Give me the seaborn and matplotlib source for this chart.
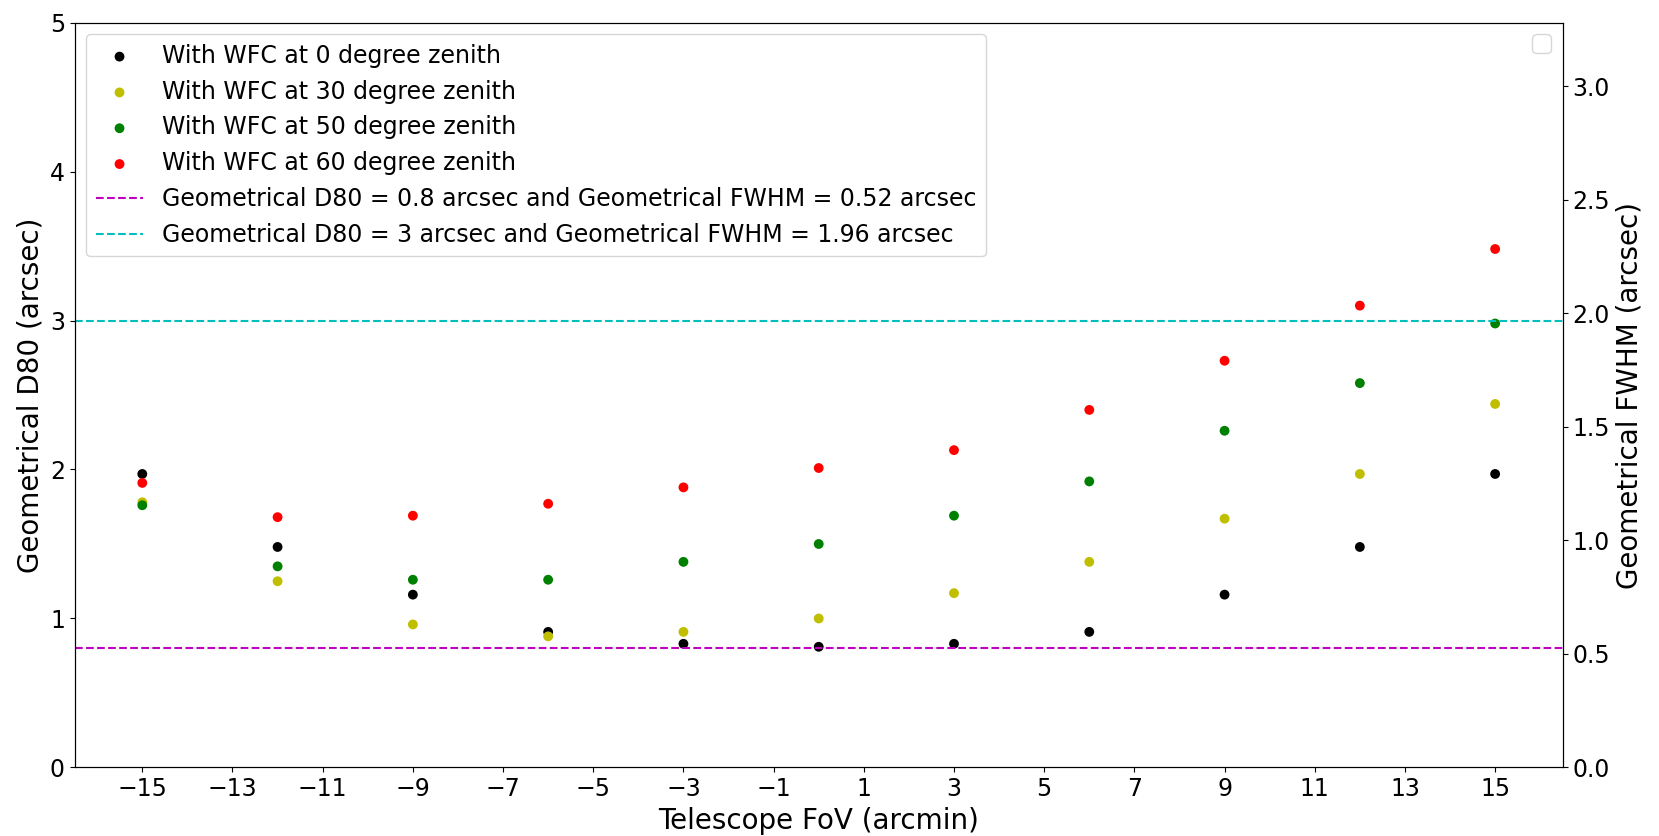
import numpy as np
import seaborn as sns
import matplotlib
matplotlib.use("Agg")
import matplotlib.pyplot as plt

# field positions (arcmin)
fov = [-15, -12, -9, -6, -3, 0, 3, 6, 9, 12, 15]

# geometrical D80 (arcsec)
d80_z0 = [1.97, 1.48, 1.16, 0.91, 0.83, 0.81, 0.83, 0.91, 1.16, 1.48, 1.97]
d80_z30 = [1.78, 1.25, 0.96, 0.88, 0.91, 1.00, 1.17, 1.38, 1.67, 1.97, 2.44]
d80_z50 = [1.76, 1.35, 1.26, 1.26, 1.38, 1.50, 1.69, 1.92, 2.26, 2.58, 2.98]
d80_z60 = [1.91, 1.68, 1.69, 1.77, 1.88, 2.01, 2.13, 2.40, 2.73, 3.10, 3.48]

series = [
    (d80_z0, "k", "With WFC at 0 degree zenith"),
    (d80_z30, "y", "With WFC at 30 degree zenith"),
    (d80_z50, "g", "With WFC at 50 degree zenith"),
    (d80_z60, "r", "With WFC at 60 degree zenith"),
]

fig, ax = plt.subplots(figsize=(16.59, 8.36), dpi=100)

for vals, col, lab in series:
    sns.scatterplot(x=fov, y=vals, color=col, s=50, edgecolor="none", label=lab, ax=ax)

ax.axhline(0.8, color="m", ls="--", lw=1.5,
           label="Geometrical D80 = 0.8 arcsec and Geometrical FWHM = 0.52 arcsec")
ax.axhline(3, color="c", ls="--", lw=1.5,
           label="Geometrical D80 = 3 arcsec and Geometrical FWHM = 1.96 arcsec")

ax.set_xlim(-16.5, 16.5)
ax.set_ylim(0, 5)
ax.set_xticks(np.arange(-15, 16, 2))
ax.set_xlabel("Telescope FoV (arcmin)", fontsize=20)
ax.set_ylabel("Geometrical D80 (arcsec)", fontsize=20)
ax.tick_params(labelsize=17)
ax.legend(loc="upper left", fontsize=17)

# second axis for FWHM, its legend stays empty
ax2 = ax.twinx()
ax2.set_ylim(0, 3.28)
ax2.set_ylabel("Geometrical FWHM (arcsec)", fontsize=20)
ax2.tick_params(labelsize=17)
ax2.legend(handles=[], loc="upper right", fontsize=17)

fig.subplots_adjust(left=0.045, right=0.942, top=0.973, bottom=0.082)
fig.savefig("out.png", dpi=100)
